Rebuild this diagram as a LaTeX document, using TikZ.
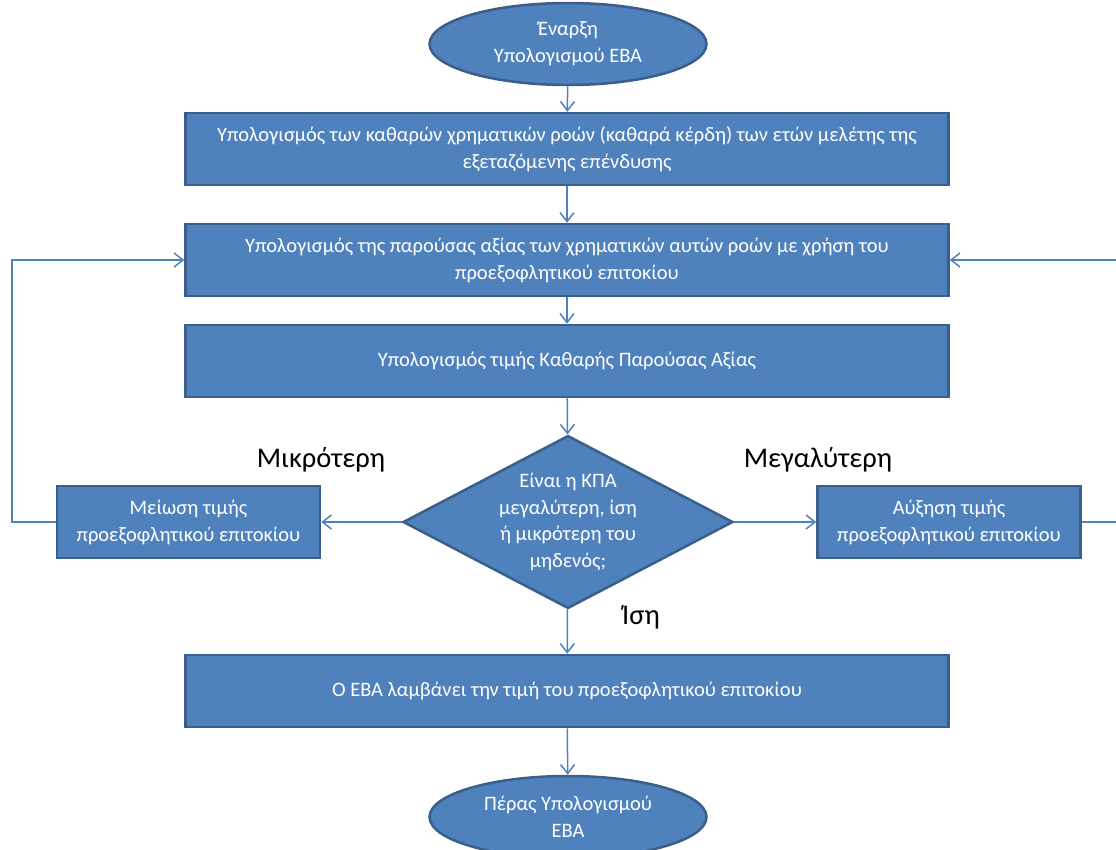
\documentclass[tikz,border=0pt]{standalone}
\usepackage{fontspec}
\setmainfont{Carlito}
\usetikzlibrary{shapes.geometric,arrows.meta}
\definecolor{boxblue}{HTML}{4F81BD}
\definecolor{boxedge}{HTML}{3A5F8B}
\definecolor{lineblue}{HTML}{4F81BD}
\begin{document}
\begin{tikzpicture}
        [x=1pt, y=-1pt,
         box/.style={draw=boxedge, fill=boxblue, line width=2.5pt, text=white,
            align=center, inner sep=0pt, font=\fontsize{20.5}{27}\selectfont},
         proc/.style={box, rectangle, minimum width=763pt, minimum height=72pt},
         side/.style={box, rectangle, minimum width=263pt, minimum height=72pt},
         term/.style={box, ellipse, minimum width=277pt, minimum height=82pt},
         decide/.style={box, diamond, aspect=1.9, inner sep=-6pt,
            minimum width=330pt, minimum height=173pt,
            font=\fontsize{20.5}{26.5}\selectfont},
         flow/.style={draw=lineblue, line width=1.5pt,
            -{Straight Barb[length=9pt, width=14pt, line width=1.5pt]}},
         answer/.style={font=\fontsize{28.5}{34}\selectfont}]
        \useasboundingbox (0,0) rectangle (1116,849);
        \clip (0,0) rectangle (1116,849);
        % main column
        \node[term] (start) at (568,44) {Έναρξη\\Υπολογισμού ΕΒΑ};
        \node[proc] (flows) at (567,149)
            {Υπολογισμός των καθαρών χρηματικών ροών (καθαρά κέρδη) των ετών μελέτης της\\εξεταζόμενης επένδυσης};
        \node[proc] (pv) at (567,260)
            {Υπολογισμός της παρούσας αξίας των χρηματικών αυτών ροών με χρήση του\\προεξοφλητικού επιτοκίου};
        \node[proc] (npv) at (567,361) {Υπολογισμός τιμής Καθαρής Παρούσας Αξίας};
        \node[decide] (check) at (568,522)
            {Είναι η ΚΠΑ\\μεγαλύτερη, ίση\\ή μικρότερη του\\μηδενός;};
        \node[side] (lower) at (188.5,522) {Μείωση τιμής\\προεξοφλητικού επιτοκίου};
        \node[side] (raise) at (949,522) {Αύξηση τιμής\\προεξοφλητικού επιτοκίου};
        \node[proc] (irr) at (567,691) {Ο ΕΒΑ λαμβάνει την τιμή του προεξοφλητικού επιτοκίου};
        \node[term] (stop) at (568,817) {Πέρας Υπολογισμού\\ΕΒΑ};
        % answers
        \node[answer] (less) at (321,460) {Μικρότερη};
        \node[answer] (more) at (818,460) {Μεγαλύτερη};
        \node[answer] (equal) at (641,617) {Ίση};
        % connectors
        \draw[flow] (start) -- (flows);
        \draw[flow] (flows) -- (pv);
        \draw[flow] (pv) -- (npv);
        \draw[flow] (npv) -- (check);
        \draw[flow] (check) -- (lower);
        \draw[flow] (check) -- (raise);
        \draw[flow] (check) -- (irr);
        \draw[flow] (irr) -- (stop);
        \coordinate (backL) at (12,522);
        \coordinate (backR) at (1125,522);
        \draw[flow] (lower.west) -- (backL) |- (pv.west);
        \draw[flow] (raise.east) -- (backR) |- (pv.east);
\end{tikzpicture}
\end{document}
